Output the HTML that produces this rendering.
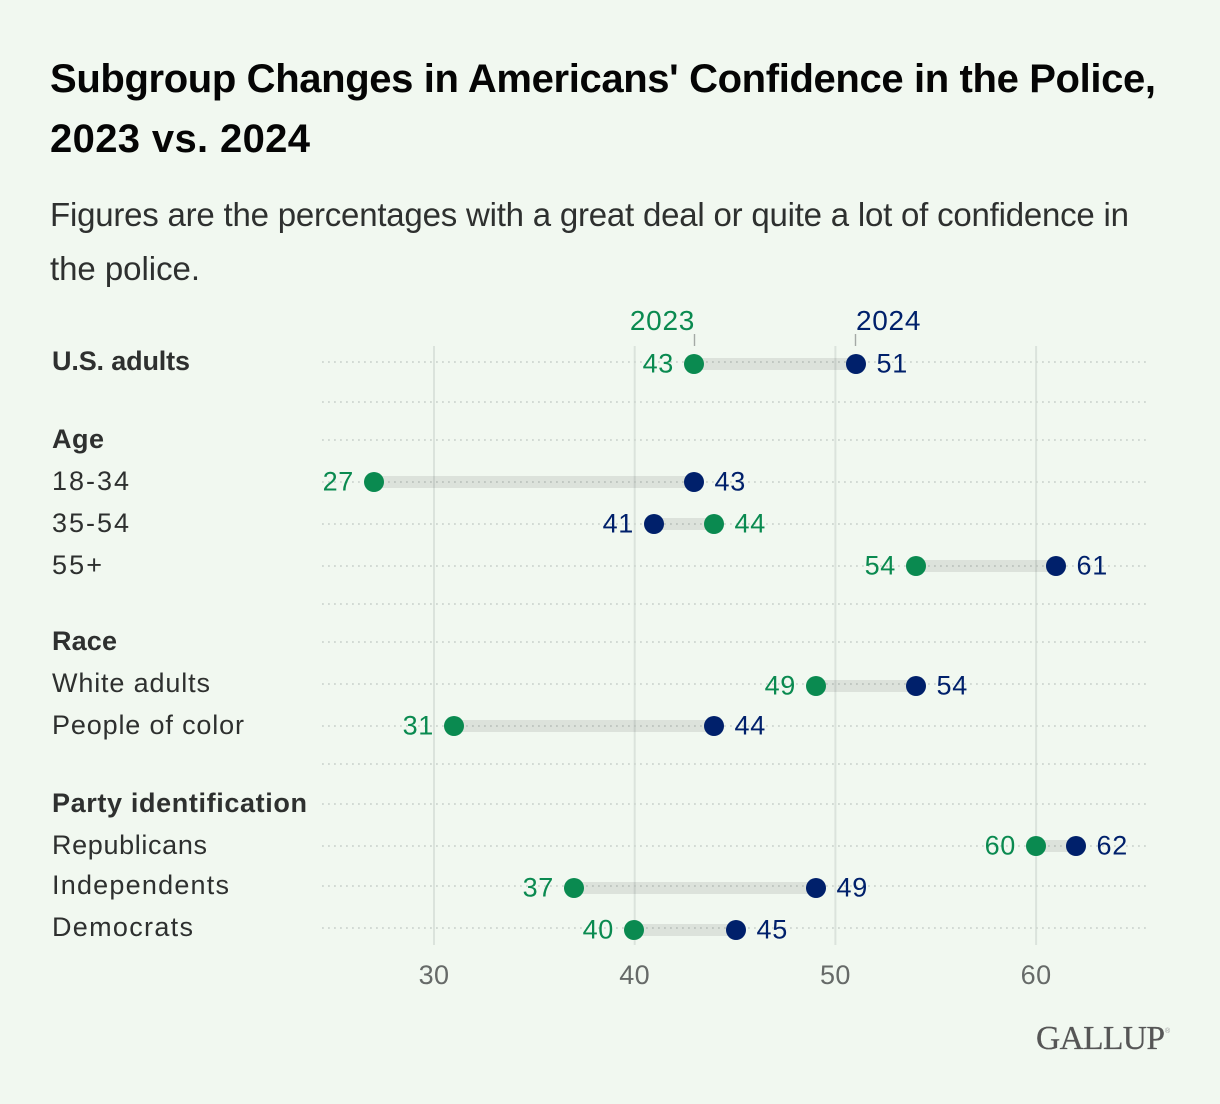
<!DOCTYPE html>
<html lang="en">
<head>
<meta charset="utf-8">
<title>Subgroup Changes in Americans' Confidence in the Police, 2023 vs. 2024</title>
<style>
html,body{margin:0;padding:0;background:#f1f8f0;}
svg{display:block;font-family:"Liberation Sans",sans-serif;}
</style>
</head>
<body>
<svg id="chart" xmlns="http://www.w3.org/2000/svg" width="1220" height="1104" viewBox="0 0 1220 1104">
  <rect x="0" y="0" width="1220" height="1104" fill="#f1f8f0"/>
  <text x="50" y="92" font-size="40" font-weight="700" fill="#050505" textLength="1106" lengthAdjust="spacing">Subgroup Changes in Americans' Confidence in the Police,</text>
  <text x="50" y="152" font-size="40" font-weight="700" fill="#050505" textLength="260" lengthAdjust="spacing">2023 vs. 2024</text>
  <text x="50" y="226" font-size="33" fill="#2e302f" textLength="1079" lengthAdjust="spacing">Figures are the percentages with a great deal or quite a lot of confidence in</text>
  <text x="50" y="280" font-size="33" fill="#2e302f" textLength="150" lengthAdjust="spacing">the police.</text>
  <g id="grid"></g>
  <g id="rows"></g>
  <g id="labels"></g>
  <g id="marks"></g>
  <g id="axis"></g>
  <g id="legend"></g>
  <g>
    <text x="1036" y="1049" font-family="'Liberation Serif',serif" font-size="33.5" fill="#565656" stroke="#565656" stroke-width="0.25" textLength="129" lengthAdjust="spacing">GALLUP</text>
    <text x="1165" y="1033" font-size="7" fill="#9a9a9a">®</text>
  </g>
</svg>
<script>
var rowLabels = ["U.S. adults", "", "Age", "18-34", "35-54", "55+", "", "Race", "White adults", "People of color", "", "Party identification", "Republicans", "Independents", "Democrats"];
var rowKinds = ["total", "looseGap", "head", "data", "data", "data", "gap", "head", "dataLow", "data", "gap", "looseHead", "data", "tightLow", "dataLow"];
var values2023 = [43, null, null, 27, 44, 54, null, null, 49, 31, null, null, 60, 37, 40];
var values2024 = [51, null, null, 43, 41, 61, null, null, 54, 44, null, null, 62, 49, 45];
var axisTicks = [30, 40, 50, 60];
var seriesYears = ["2023", "2024"];

var NS = "http://www.w3.org/2000/svg";
var GREEN = "#0a8a50";
var NAVY = "#00206b";
var kindStyle = {
  total: {step: 42, nudge: 2, bold: true},
  data: {step: 42, nudge: 0, bold: false},
  dataLow: {step: 42, nudge: 2, bold: false},
  tightLow: {step: 40, nudge: 2, bold: false},
  gap: {step: 38, nudge: 0, bold: false},
  looseGap: {step: 40, nudge: 0, bold: false},
  head: {step: 38, nudge: 0, bold: true},
  looseHead: {step: 40, nudge: 0, bold: true}
};
var labelFit = {
  "U.S. adults": 138, "Age": 52, "18-34": 77, "35-54": 77, "55+": 50, "Race": 65,
  "White adults": 158, "People of color": 192, "Party identification": 255,
  "Republicans": 155, "Independents": 177, "Democrats": 141
};
function xScale(v) { return 434 + (v - 30) * 20.07; }
function xSnap(v) { return 2 * Math.round(xScale(v) / 2); }
function rowLine(i) {
  var y = 362;
  for (var k = 1; k <= i; k++) { y += kindStyle[rowKinds[k]].step; }
  return y;
}
function make(parent, tag, attrs, text) {
  var el = document.createElementNS(NS, tag);
  for (var a in attrs) { el.setAttribute(a, attrs[a]); }
  if (text !== undefined) { el.textContent = text; }
  parent.appendChild(el);
  return el;
}
function slug(s) { return s.toLowerCase().replace(/[^a-z0-9]+/g, "-").replace(/^-|-$/g, ""); }

var gridG = document.getElementById("grid");
var rowsG = document.getElementById("rows");
var labelsG = document.getElementById("labels");
var marksG = document.getElementById("marks");
var axisG = document.getElementById("axis");
var legendG = document.getElementById("legend");

axisTicks.forEach(function (t) {
  var line = make(gridG, "line", {x1: xScale(t), x2: xScale(t), y1: 346, y2: 945, stroke: "#dbe3dc", "stroke-width": 2});
  
  
  var lab = make(axisG, "text", {x: xScale(t), y: 984, "text-anchor": "middle", "font-size": 27, "letter-spacing": 0.4, fill: "#666a68"}, t);
  
  
});

rowLabels.forEach(function (label, i) {
  var y = rowLine(i);
  var kind = kindStyle[rowKinds[i]];
  var dotted = make(rowsG, "line", {x1: 322, x2: 1148, y1: y, y2: y, stroke: "#ced6cf", "stroke-width": 1.8, "stroke-dasharray": "1.8 4.2"});
  
  
  if (label) {
    var t = make(labelsG, "text", {x: 52, y: y + 8, "font-size": 27, "font-weight": kind.bold ? 700 : 400, fill: "#2e302f", textLength: labelFit[label], lengthAdjust: "spacing"}, label);
    
    
  }
  var a = values2023[i];
  var b = values2024[i];
  if (a === null || b === null) { return; }
  var cy = y + kind.nudge;
  var x1 = xSnap(a);
  var x2 = xSnap(b);
  var name = slug(label);
  var bar = make(marksG, "rect", {x: Math.min(x1, x2), y: cy - 6, width: Math.abs(x2 - x1), height: 12, fill: "#000", "fill-opacity": 0.085});
  
  
  var dotA = make(marksG, "circle", {cx: x1, cy: cy, r: 10, fill: GREEN});
  
  
  var dotB = make(marksG, "circle", {cx: x2, cy: cy, r: 10, fill: NAVY});
  
  
  var aLeft = a <= b;
  var textA = make(marksG, "text", {x: x1 + (aLeft ? -20 : 20.5), y: cy + 8.5, "text-anchor": aLeft ? "end" : "start", "font-size": 27, "letter-spacing": 0.7, fill: GREEN}, a);
  
  
  var textB = make(marksG, "text", {x: x2 + (aLeft ? 20.5 : -20), y: cy + 8.5, "text-anchor": aLeft ? "start" : "end", "font-size": 27, "letter-spacing": 0.7, fill: NAVY}, b);
  
  
});

var tickA = make(legendG, "line", {x1: xSnap(values2023[0]) + 0.5, x2: xSnap(values2023[0]) + 0.5, y1: 334, y2: 346, stroke: "#a4a9a5", "stroke-width": 1.4});


var tickB = make(legendG, "line", {x1: xSnap(values2024[0]) - 0.5, x2: xSnap(values2024[0]) - 0.5, y1: 334, y2: 346, stroke: "#a4a9a5", "stroke-width": 1.4});


var legA = make(legendG, "text", {x: xSnap(values2023[0]) + 1, y: 330, "text-anchor": "end", "font-size": 28, "letter-spacing": 0.7, fill: GREEN}, seriesYears[0]);


var legB = make(legendG, "text", {x: xSnap(values2024[0]), y: 330, "text-anchor": "start", "font-size": 28, "letter-spacing": 0.7, fill: NAVY}, seriesYears[1]);


</script>
</body>
</html>
